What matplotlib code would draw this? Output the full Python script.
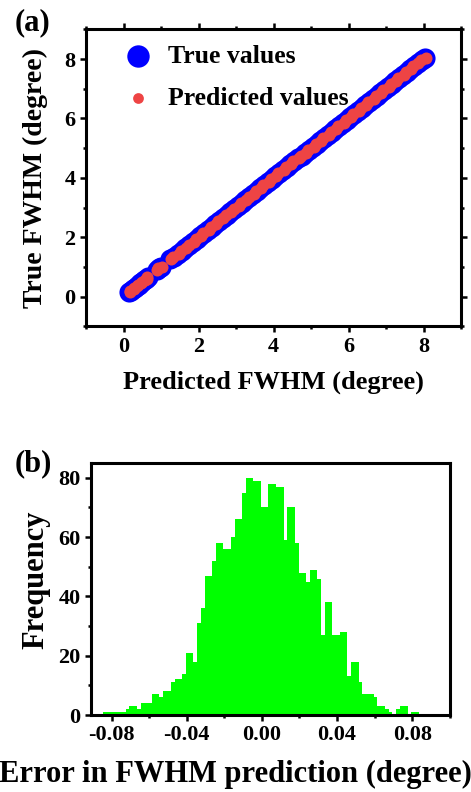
import numpy as np
import matplotlib
matplotlib.use('Agg')
import matplotlib.pyplot as plt
from matplotlib.ticker import MultipleLocator

plt.rcParams['font.family'] = ['Liberation Serif', 'DejaVu Serif']
plt.rcParams['font.weight'] = 'bold'

# (a) true vs predicted FWHM (degree)
true_fwhm = [0.15, 0.20, 0.25, 0.30, 0.35, 0.40, 0.45, 0.50, 0.55, 0.60, 0.65, 0.88, 0.95, 1.00,
             1.25, 1.35, 1.45, 1.55, 1.65, 1.75, 1.85, 1.95, 2.05, 2.15, 2.25, 2.35, 2.45, 2.55,
             2.65, 2.75, 2.85, 2.95, 3.05, 3.15, 3.25, 3.35, 3.45, 3.55, 3.65, 3.75, 3.85, 3.95,
             4.05, 4.15, 4.25, 4.35, 4.45, 4.55, 4.65, 4.75, 4.85, 4.95, 5.05, 5.15, 5.25, 5.35,
             5.45, 5.55, 5.65, 5.75, 5.85, 5.95, 6.05, 6.15, 6.25, 6.35, 6.45, 6.55, 6.65, 6.75,
             6.85, 6.95, 7.05, 7.15, 7.25, 7.35, 7.45, 7.55, 7.65, 7.75, 7.85, 7.95, 8.05]
pred_fwhm = [0.17, 0.18, 0.27, 0.29, 0.37, 0.38, 0.47, 0.49, 0.56, 0.62, 0.63, 0.90, 0.93, 1.02,
             1.27, 1.33, 1.47, 1.53, 1.66, 1.74, 1.87, 1.93, 2.06, 2.13, 2.27, 2.34, 2.47, 2.53,
             2.66, 2.73, 2.87, 2.94, 3.07, 3.13, 3.26, 3.34, 3.47, 3.53, 3.66, 3.73, 3.87, 3.94,
             4.06, 4.13, 4.27, 4.34, 4.46, 4.53, 4.67, 4.74, 4.86, 4.93, 5.07, 5.14, 5.26, 5.33,
             5.47, 5.54, 5.66, 5.73, 5.87, 5.94, 6.06, 6.13, 6.27, 6.34, 6.46, 6.53, 6.67, 6.74,
             6.86, 6.93, 7.07, 7.14, 7.26, 7.33, 7.47, 7.54, 7.66, 7.73, 7.86, 7.93, 8.06]

# (b) histogram of prediction error, bins of 0.002 starting at -0.0845
err_counts = [1, 1, 1, 1, 1, 1, 2, 3, 3, 2, 4, 4, 4, 7, 7, 6, 8, 8, 11, 12, 12, 14,
              21, 21, 18, 31, 36, 47, 47, 52, 58, 58, 56, 56, 60, 66, 66, 75, 80, 80, 79, 79,
              70, 70, 78, 78, 77, 77, 59, 70, 70, 58, 48, 48, 45, 49, 49, 46, 27, 38, 38, 27,
              27, 28, 28, 13, 18, 18, 11, 7, 7, 7, 6, 3, 3, 2, 1, 0, 2, 3, 3, 0, 1, 1]
bin_start = -0.0845
bin_width = 0.002

fig = plt.figure(figsize=(4.71, 7.92), dpi=100)

ax1 = fig.add_axes([0.1826, 0.588, 0.7964, 0.375])
ax1.scatter(true_fwhm, true_fwhm, s=210, c='#0000FF', lw=0, label='True values', zorder=2)
ax1.scatter(pred_fwhm, true_fwhm, s=75, c='#EE4444', lw=0, label='Predicted values', zorder=3)
ax1.set_xlim(-1, 9)
ax1.set_ylim(-1, 9)
ax1.xaxis.set_major_locator(MultipleLocator(2))
ax1.xaxis.set_minor_locator(MultipleLocator(1))
ax1.yaxis.set_major_locator(MultipleLocator(2))
ax1.yaxis.set_minor_locator(MultipleLocator(1))
ax1.tick_params(which='both', top=True, right=True, direction='out', width=1.8, labelsize=16)
ax1.tick_params(which='major', length=4)
ax1.tick_params(which='minor', length=2.5)
ax1.set_xlabel('Predicted FWHM (degree)', fontsize=19, fontweight='bold', labelpad=10)
ax1.set_ylabel('True FWHM (degree)', fontsize=20, fontweight='bold', labelpad=12)
leg = ax1.legend(loc='upper left', frameon=False, fontsize=18.5, handletextpad=0.15,
                 borderaxespad=0.2, labelspacing=0.75, bbox_to_anchor=(0.03, 1.0),
                 markerscale=1.0)
leg.legend_handles[0].set_sizes([260])
leg.legend_handles[1].set_sizes([60])
for sp in ax1.spines.values():
    sp.set_linewidth(2.2)
fig.text(0.03, 0.962, '(a)', fontsize=22, fontweight='bold')

ax2 = fig.add_axes([0.193, 0.0972, 0.762, 0.3182])
edges = bin_start + bin_width * np.arange(len(err_counts) + 1)
ax2.stairs(err_counts, edges, fill=True, color='#00FF00', lw=0)
ax2.set_xlim(-0.091, 0.1)
ax2.set_ylim(0, 85)
ax2.xaxis.set_major_locator(MultipleLocator(0.04))
ax2.xaxis.set_minor_locator(MultipleLocator(0.02))
ax2.yaxis.set_major_locator(MultipleLocator(20))
ax2.yaxis.set_minor_locator(MultipleLocator(10))
ax2.xaxis.set_major_formatter(plt.FuncFormatter(lambda v, p: f'{v:.2f}'))
ax2.tick_params(which='both', direction='out', width=1.8, labelsize=16)
ax2.tick_params(which='major', length=4)
ax2.tick_params(which='minor', length=2.5)
ax2.set_xlabel('Error in FWHM prediction (degree)', fontsize=22, fontweight='bold')
ax2.xaxis.set_label_coords(0.404, -0.18)
ax2.set_ylabel('Frequency', fontsize=22, fontweight='bold')
ax2.yaxis.set_label_coords(-0.114, 0.536)
for sp in ax2.spines.values():
    sp.set_linewidth(2.2)
fig.text(0.03, 0.405, '(b)', fontsize=22, fontweight='bold')

fig.savefig('out.png', dpi=100)
